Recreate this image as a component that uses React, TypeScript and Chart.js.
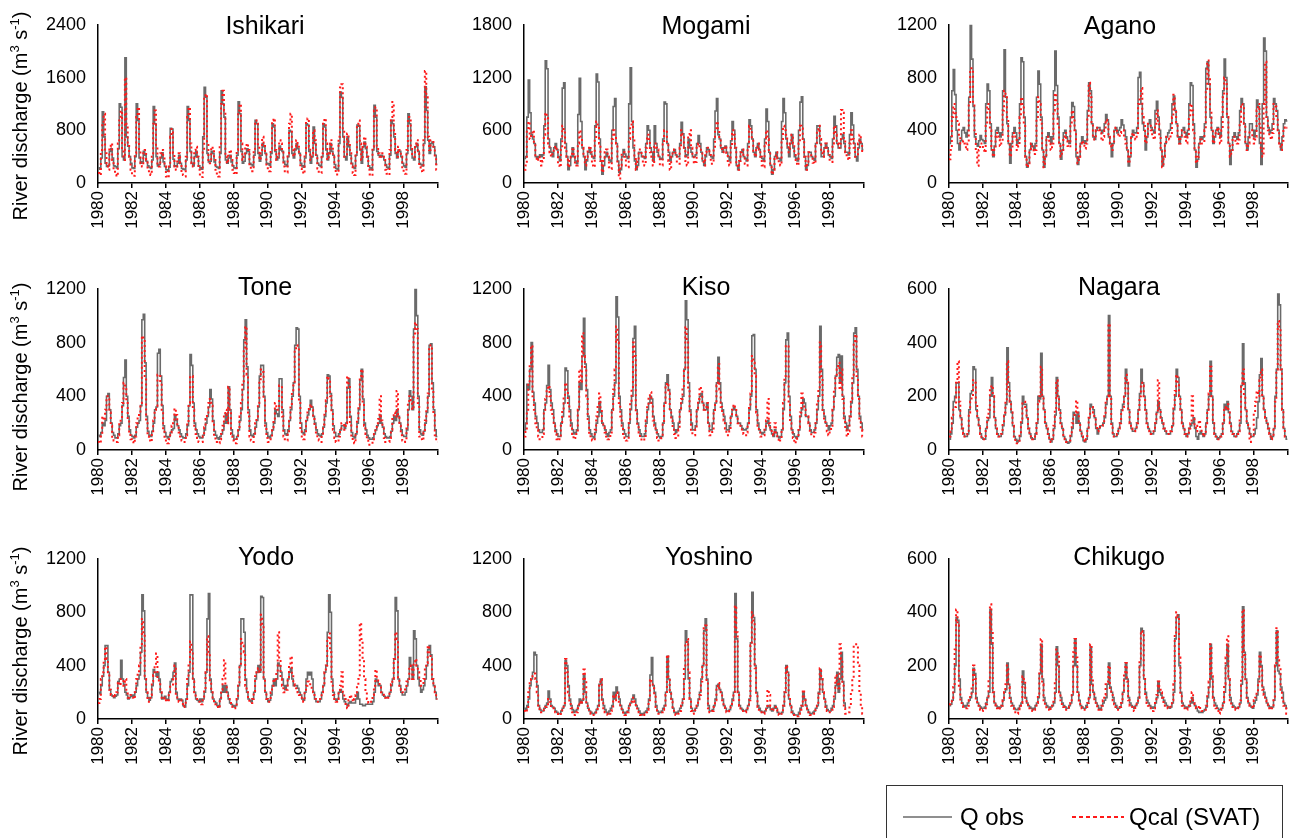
import React, { useEffect, useRef } from 'react';
import { Chart, registerables } from 'chart.js';
Chart.register(...registerables);

const FONT = '"Liberation Sans", Arial, Helvetica, sans-serif';

// ---------- data (monthly, Jan 1980 – Dec 1999) ----------
const riverNames = ['Ishikari', 'Mogami', 'Agano', 'Tone', 'Kiso', 'Nagara', 'Yodo', 'Yoshino', 'Chikugo'];
const yMaxValues = [2400, 1800, 1200, 1200, 1200, 600, 1200, 1200, 600];
const yearTickLabels = ['1980', '1982', '1984', '1986', '1988', '1990', '1992', '1994', '1996', '1998', ''];
const MONTHS = 240;

const ishikariObs = [
  230,210,380,1080,700,300,250,260,480,520,380,260,
  250,230,520,1200,1150,400,350,1900,700,560,400,300,
  230,220,400,1200,950,380,300,320,480,420,330,260,
  240,220,350,1160,900,400,260,280,380,460,320,250,
  200,180,240,830,820,360,260,250,300,420,300,220,
  210,200,350,1160,950,480,300,260,400,480,400,260,
  230,210,700,1450,1300,450,320,330,480,450,320,250,
  240,220,450,1400,1200,1000,350,300,380,420,320,260,
  230,220,420,1230,1050,480,300,330,450,520,480,300,
  280,260,420,950,900,450,330,420,600,550,450,300,
  290,270,450,900,850,480,350,380,560,500,480,330,
  280,260,400,800,780,450,380,500,600,520,450,300,
  260,240,380,900,880,480,300,400,850,600,420,300,
  270,250,400,900,850,500,350,450,600,480,420,280,
  220,200,600,1380,1300,700,400,350,700,550,420,300,
  240,220,420,880,860,500,300,550,620,520,400,260,
  230,200,500,1180,1000,480,420,400,420,400,350,280,
  240,220,420,950,900,700,450,380,500,480,400,300,
  260,240,450,1050,900,500,380,350,550,600,480,300,
  280,260,600,1460,1100,650,450,600,620,550,420,280,
];
const ishikariCal = [
  150,120,500,900,1050,450,300,200,550,600,350,200,
  120,100,600,950,1100,500,350,1600,900,600,400,200,
  130,110,450,1000,1150,500,300,250,450,500,350,200,
  140,120,400,900,1100,550,280,250,450,500,400,250,
  100,80,250,700,820,450,250,200,350,450,300,150,
  120,100,400,1000,1150,600,300,250,500,550,400,200,
  100,90,500,1300,1350,600,350,300,550,500,350,200,
  120,100,600,1200,1400,1100,400,300,450,500,350,200,
  150,130,500,1100,1200,600,350,400,550,600,500,250,
  200,180,500,950,900,550,350,450,700,600,450,250,
  200,180,500,950,980,500,350,400,650,600,500,250,
  180,160,450,900,1050,550,400,550,650,600,450,220,
  160,140,450,950,980,550,350,450,800,650,400,220,
  170,150,450,900,980,600,350,450,650,550,420,200,
  150,130,700,1450,1500,800,400,400,750,600,450,250,
  150,120,450,900,950,600,350,600,700,550,400,200,
  130,110,550,1100,1150,550,450,400,450,420,350,200,
  140,120,500,1000,1230,800,500,400,550,500,400,220,
  160,140,500,1000,950,550,400,400,600,650,450,250,
  180,160,700,1700,1300,700,500,650,650,550,400,200,
];

const mogamiObs = [
  280,300,750,1170,800,550,500,450,300,280,300,320,
  300,320,650,1390,1300,500,400,350,300,400,450,380,
  300,250,500,1080,1140,450,300,150,200,300,400,300,
  250,220,780,1190,700,400,300,150,250,350,400,330,
  300,280,650,1240,1150,500,250,100,200,300,350,300,
  260,240,600,870,960,450,250,120,150,300,380,330,
  300,280,900,1310,700,400,250,150,200,350,350,300,
  300,280,450,650,600,400,350,250,650,450,350,300,
  280,270,500,920,900,450,350,250,300,350,380,320,
  300,300,450,690,560,400,300,320,500,400,350,300,
  300,320,450,540,450,350,250,200,300,400,380,320,
  300,280,500,820,960,550,500,400,350,400,420,350,
  300,250,480,700,600,400,200,150,250,350,380,300,
  280,250,450,720,650,500,350,300,400,450,380,300,
  280,250,500,840,700,350,200,100,150,300,350,280,
  280,250,700,960,800,500,400,300,450,550,400,300,
  280,250,600,920,980,500,300,150,200,350,350,300,
  280,260,450,650,650,450,300,300,400,450,400,320,
  300,280,500,760,650,450,400,400,500,550,450,350,
  350,320,550,800,660,450,300,250,400,500,450,380,
];
const mogamiCal = [
  150,200,600,700,500,550,600,450,300,250,300,250,
  200,250,550,800,750,450,350,300,350,400,420,350,
  200,180,400,650,600,400,300,180,250,300,380,300,
  220,200,450,600,500,400,300,200,300,380,420,350,
  200,180,500,700,650,450,250,120,250,350,380,300,
  180,160,500,600,550,450,200,50,200,350,350,300,
  200,180,500,650,700,500,300,150,250,380,380,320,
  220,200,400,550,500,350,300,200,450,400,380,300,
  200,200,450,600,600,450,250,150,300,350,380,320,
  220,220,400,600,550,400,250,200,550,600,400,300,
  220,240,400,450,400,350,250,200,350,400,380,320,
  220,220,400,600,700,600,500,400,350,400,420,340,
  220,200,400,600,550,400,220,150,250,350,380,300,
  220,200,400,650,600,500,350,300,400,450,380,300,
  200,180,450,600,500,350,200,100,150,300,350,280,
  220,200,500,650,600,550,450,350,450,550,450,320,
  220,200,450,650,620,500,300,150,220,350,350,300,
  230,220,420,600,650,500,350,300,400,450,400,320,
  250,240,450,650,550,450,400,450,830,800,500,350,
  280,260,450,600,500,400,300,300,450,550,450,350,
];

const aganoObs = [
  300,350,700,860,670,400,300,250,320,400,420,380,
  350,400,650,1200,940,580,350,300,280,320,360,330,
  320,300,600,750,700,450,250,200,280,400,420,380,
  350,380,700,1010,650,450,300,150,300,380,420,380,
  300,330,600,950,920,500,200,120,150,250,300,280,
  250,300,650,850,750,500,250,120,200,350,380,350,
  300,350,700,1000,740,500,300,180,250,380,400,350,
  320,300,500,610,580,400,200,140,200,300,350,320,
  300,320,550,760,700,450,350,330,400,420,420,400,
  380,400,450,520,480,350,300,200,300,400,420,380,
  400,420,480,440,400,350,250,130,200,350,400,380,
  380,420,800,840,600,450,400,250,350,450,480,420,
  400,380,550,620,500,400,250,130,200,300,350,380,
  400,450,600,660,550,450,350,300,350,400,420,380,
  350,400,600,760,740,450,250,120,180,300,350,330,
  350,450,870,920,750,500,400,300,350,400,420,380,
  350,500,700,940,800,500,300,140,250,350,380,350,
  330,380,550,640,600,450,300,250,350,450,450,400,
  350,400,630,580,300,140,600,1100,1000,500,420,380,
  400,450,640,600,550,400,300,250,350,450,480,470,
];
const aganoCal = [
  180,250,500,600,530,500,450,350,300,300,320,300,
  250,300,600,870,870,600,400,250,130,250,300,280,
  250,230,450,600,550,400,250,200,250,350,380,330,
  280,300,550,700,650,500,300,200,250,350,380,350,
  250,280,500,650,600,450,200,120,150,250,300,250,
  220,250,500,650,600,450,250,120,200,350,350,300,
  250,300,550,680,600,450,300,200,250,350,380,320,
  280,270,450,550,500,400,250,150,200,300,320,300,
  260,300,500,760,650,450,350,330,400,420,400,380,
  320,350,400,480,450,350,300,250,300,400,420,380,
  350,380,400,400,350,300,250,150,200,350,380,350,
  330,380,600,650,720,500,450,300,350,450,450,400,
  350,330,450,550,450,350,250,120,200,300,350,350,
  330,380,500,670,550,450,350,300,350,400,400,350,
  300,350,500,600,550,400,250,150,200,300,330,300,
  300,400,700,930,800,550,400,300,350,400,420,360,
  300,400,650,800,750,500,300,200,250,350,350,320,
  300,330,450,600,580,450,300,250,300,400,400,350,
  300,350,550,600,450,250,200,600,920,500,400,350,
  330,380,600,580,500,400,300,250,320,420,430,420,
];

const toneObs = [
  110,100,130,200,180,220,400,420,300,200,130,110,
  90,90,120,180,200,330,540,670,400,250,150,110,
  100,90,110,170,200,220,330,970,1010,650,250,140,
  110,100,140,200,300,320,720,750,550,330,180,130,
  100,90,100,130,150,160,260,220,180,150,120,100,
  90,90,120,180,330,710,630,350,200,150,120,100,
  90,90,110,150,200,250,320,450,380,220,140,110,
  90,80,100,120,150,200,270,200,470,300,150,110,
  80,80,100,150,220,300,450,820,970,620,300,150,
  110,100,120,170,220,320,550,630,630,400,200,130,
  100,90,110,150,200,300,270,250,530,530,300,150,
  120,110,150,220,300,400,500,780,910,900,400,200,
  130,120,150,220,260,300,370,320,250,200,150,120,
  110,100,120,170,250,350,560,550,420,300,180,130,
  100,100,120,150,180,180,160,200,460,530,250,130,
  100,90,120,200,300,520,600,380,200,150,110,90,
  80,80,90,120,150,180,200,260,200,170,120,100,
  90,90,100,140,200,250,220,300,250,200,150,110,
  100,100,150,300,440,400,300,900,1210,1000,400,150,
  120,110,140,200,280,400,780,790,500,300,150,100,
];
const toneCal = [
  60,50,120,250,220,300,400,400,280,180,90,70,
  60,60,110,200,230,350,500,480,350,220,120,80,
  60,50,100,200,250,260,350,850,820,550,200,100,
  70,60,130,220,300,330,560,550,500,300,150,90,
  60,50,80,130,180,200,310,260,180,130,90,70,
  60,60,110,200,350,550,550,300,180,120,90,60,
  60,60,100,170,230,280,350,380,330,200,100,70,
  60,50,80,120,180,250,300,200,470,300,120,70,
  50,50,90,160,250,350,500,750,920,560,250,100,
  70,60,110,200,250,350,500,600,580,380,180,90,
  60,60,100,170,220,350,300,300,480,480,250,100,
  80,70,140,240,330,430,480,750,780,760,350,150,
  90,80,140,230,280,330,340,300,230,180,120,80,
  70,60,110,190,270,370,550,530,400,280,150,90,
  60,60,100,150,200,200,150,200,550,480,200,90,
  60,50,110,220,330,550,600,350,180,120,70,40,
  40,40,70,130,170,200,230,400,220,170,90,60,
  60,60,90,150,230,280,250,440,250,180,110,70,
  60,70,160,350,400,360,300,850,950,900,350,100,
  80,70,130,220,300,420,750,780,450,260,110,60,
];

const kisoObs = [
  150,200,490,450,600,800,430,350,250,200,150,130,
  130,150,300,350,480,630,450,350,300,200,150,120,
  100,100,200,250,350,610,590,400,300,200,150,120,
  130,150,300,500,450,700,980,640,450,250,150,120,
  100,90,130,200,250,360,280,200,180,150,120,100,
  130,150,300,400,500,1140,990,400,300,200,150,120,
  100,100,200,300,400,830,920,300,200,150,120,100,
  100,120,200,300,350,400,380,250,200,150,120,100,
  90,100,200,350,500,560,450,300,250,200,150,130,
  150,200,300,350,400,600,1110,970,500,300,200,150,
  150,180,300,350,400,420,350,300,300,350,200,150,
  150,200,300,350,500,690,500,350,300,250,200,150,
  150,180,250,300,320,300,250,200,200,180,160,150,
  150,160,200,300,400,850,860,600,300,200,150,130,
  120,130,150,200,220,180,150,120,100,150,130,100,
  90,100,150,300,500,820,870,400,250,150,120,100,
  90,100,150,250,300,380,350,250,250,200,150,130,
  130,150,200,300,400,920,600,300,250,200,180,150,
  180,200,300,400,550,690,710,500,700,400,250,200,
  150,180,250,350,500,870,910,600,400,250,200,150,
];
const kisoCal = [
  100,150,300,500,650,780,400,300,200,150,100,80,
  80,120,280,380,450,480,400,300,250,180,120,80,
  70,80,180,300,400,500,450,350,250,180,120,80,
  90,120,300,600,500,870,700,600,400,220,120,80,
  70,70,150,250,320,420,300,200,170,130,100,80,
  90,120,300,450,600,920,800,350,250,180,120,90,
  70,80,200,350,450,800,700,280,180,130,90,70,
  70,90,220,330,400,430,350,220,180,130,90,70,
  70,90,200,350,480,500,420,280,220,170,120,90,
  100,150,300,380,450,600,920,800,450,280,150,110,
  110,150,300,380,470,450,350,300,320,350,180,110,
  110,150,280,350,480,640,450,320,280,220,160,110,
  110,150,250,300,340,320,260,200,200,170,140,120,
  110,130,200,320,420,700,650,550,280,180,130,100,
  100,110,150,220,380,200,150,120,110,200,120,90,
  60,80,150,350,550,780,780,350,200,130,90,50,
  70,90,170,280,420,350,300,250,250,200,130,100,
  100,130,200,350,450,800,550,280,220,180,140,110,
  140,180,300,450,550,600,650,450,600,380,220,150,
  100,140,250,380,550,800,860,550,380,220,150,100,
];

const nagaraObs = [
  40,60,100,180,200,250,250,150,120,80,60,50,
  50,60,150,210,220,310,300,150,120,90,60,45,
  40,40,80,110,120,200,270,200,120,80,60,50,
  50,60,90,130,170,380,250,180,140,90,50,40,
  30,35,50,100,200,170,170,120,80,60,45,40,
  40,60,100,200,190,360,200,150,100,80,60,40,
  30,40,80,130,270,200,150,100,80,50,40,30,
  25,30,50,80,140,130,100,140,100,70,50,35,
  30,40,80,120,170,160,150,120,80,60,80,90,
  90,100,120,170,200,500,200,100,60,50,50,60,
  80,100,150,170,200,300,250,150,100,80,70,70,
  80,100,150,210,300,250,200,150,100,80,70,60,
  60,70,100,140,180,150,120,100,80,70,60,60,
  60,70,90,150,200,300,270,200,150,100,80,60,
  50,60,80,90,100,120,80,50,40,60,70,60,
  50,60,100,150,200,330,200,100,60,50,40,45,
  50,60,100,170,150,180,140,100,70,60,50,50,
  60,70,100,240,395,250,150,100,80,60,50,50,
  60,80,120,180,280,340,200,150,120,100,80,60,
  40,50,80,200,300,580,540,300,150,80,50,40,
];
const nagaraCal = [
  50,70,120,160,160,250,330,180,120,80,60,50,
  50,60,140,180,200,260,250,170,120,90,60,45,
  40,40,80,120,150,230,240,200,120,80,60,50,
  50,60,100,140,180,330,220,180,140,90,50,30,
  25,30,60,110,180,180,160,120,80,60,45,40,
  40,60,100,180,200,310,200,150,100,80,60,40,
  30,40,90,150,260,200,150,100,80,50,40,30,
  30,35,60,100,130,140,185,140,100,70,50,35,
  30,40,80,120,160,160,140,120,90,70,80,90,
  90,100,130,180,200,470,200,90,50,50,50,60,
  80,100,140,160,210,280,250,150,100,80,70,70,
  80,100,150,200,250,240,200,150,100,80,70,60,
  60,70,100,140,260,150,120,100,80,70,60,60,
  60,70,90,160,220,280,250,200,150,100,80,60,
  50,60,80,100,200,120,90,70,90,110,80,60,
  50,60,100,150,210,310,200,100,60,50,40,50,
  50,60,110,160,150,170,140,100,70,60,50,50,
  60,70,110,240,300,200,150,100,80,30,50,50,
  140,180,220,200,260,300,200,150,120,100,80,60,
  40,50,80,180,300,480,450,300,150,80,50,50,
];

const yodoObs = [
  200,190,250,320,400,550,550,350,220,180,170,160,
  170,180,280,300,440,300,260,200,180,150,160,170,
  180,170,200,250,300,330,500,930,810,300,200,160,
  140,160,250,370,350,320,350,300,200,150,160,170,
  150,140,200,280,300,350,420,200,150,140,150,140,
  100,90,150,250,350,930,930,300,200,150,140,130,
  150,130,150,200,350,750,940,300,200,150,130,120,
  100,90,150,200,250,200,250,200,150,120,110,100,
  90,100,150,250,400,750,750,650,300,200,150,140,
  130,150,200,300,350,400,350,920,910,300,200,150,
  130,140,180,250,300,250,300,420,400,350,300,250,
  220,250,300,350,380,300,250,250,250,230,200,180,
  150,140,200,300,350,330,350,300,200,150,130,130,
  130,150,200,250,350,400,650,930,800,300,200,150,
  140,150,200,220,200,150,130,110,100,120,130,120,
  120,120,150,200,150,110,110,100,100,110,110,110,
  110,110,130,200,300,280,250,250,200,180,170,160,
  160,170,200,250,300,450,910,810,300,250,200,180,
  180,200,250,300,460,400,300,660,600,400,300,250,
  200,220,250,300,400,520,550,480,300,250,200,150,
];
const yodoCal = [
  120,150,300,350,450,540,450,350,220,180,170,160,
  180,200,280,250,300,300,250,300,200,160,170,180,
  160,150,200,300,350,400,550,750,650,300,200,130,
  140,180,280,330,400,490,300,260,200,150,150,160,
  140,130,200,250,250,300,400,180,150,130,140,120,
  90,100,150,300,400,580,500,280,200,160,150,130,
  120,110,150,220,350,620,500,280,200,150,120,110,
  90,80,150,220,300,440,250,200,150,120,110,90,
  80,90,150,250,400,600,550,500,250,200,150,130,
  120,150,200,320,350,380,350,780,700,300,200,150,
  130,140,200,250,300,280,350,650,450,300,250,200,
  200,220,300,400,470,320,260,250,230,200,180,160,
  140,130,200,250,280,260,250,220,200,150,130,130,
  130,150,200,260,350,400,600,640,500,250,180,140,
  130,150,200,250,350,200,150,100,80,140,180,160,
  130,150,180,250,300,720,600,450,300,200,150,120,
  120,130,180,250,370,300,280,250,200,200,180,160,
  150,160,200,260,300,450,650,600,300,250,220,200,
  200,230,280,300,400,380,300,430,450,400,350,300,
  250,260,300,380,420,550,500,450,300,250,200,150,
];

const yoshinoObs = [
  80,70,100,150,250,300,350,500,480,250,100,70,
  60,60,80,100,120,210,150,100,90,80,60,50,
  40,40,60,80,100,440,400,250,150,100,70,50,
  60,70,100,150,120,140,330,200,120,80,60,50,
  40,40,50,70,100,260,300,150,100,70,50,40,
  60,80,100,200,150,240,200,150,100,70,50,40,
  50,60,100,120,150,180,150,100,80,60,40,30,
  40,50,60,80,150,330,460,250,200,100,60,50,
  50,60,80,100,200,470,300,200,150,80,50,40,
  50,60,80,100,150,300,660,580,300,150,80,60,
  60,80,100,150,200,300,400,660,750,300,100,60,
  60,70,100,150,250,260,220,200,150,100,80,60,
  60,70,100,150,200,940,600,200,100,80,70,60,
  60,70,100,150,570,950,760,400,200,100,80,60,
  50,50,60,80,100,90,70,60,80,100,80,50,
  40,40,50,100,200,400,350,150,100,60,40,30,
  30,30,50,80,100,200,150,100,70,50,40,40,
  50,60,80,100,200,370,300,200,150,100,70,60,
  60,80,100,150,250,350,200,300,500,280,120,80,
  null,null,null,null,null,null,null,null,null,null,null,null,
];
const yoshinoCal = [
  60,50,80,200,280,300,330,340,300,200,80,60,
  50,50,70,90,100,150,130,90,80,70,50,40,
  30,30,50,80,120,450,350,200,120,80,50,30,
  40,50,80,130,110,140,370,300,100,70,50,40,
  30,30,40,60,100,250,300,130,80,50,40,30,
  40,60,80,180,140,200,180,130,90,60,40,30,
  40,50,80,110,130,160,130,90,70,50,30,25,
  30,40,50,70,140,300,280,230,180,90,50,40,
  40,50,70,90,180,480,300,200,130,70,40,30,
  30,40,60,100,150,400,560,600,350,150,60,40,
  50,70,100,140,180,280,400,680,700,280,80,50,
  50,60,90,140,240,270,230,200,140,90,70,50,
  50,60,90,140,190,850,650,200,100,70,60,50,
  50,60,90,140,550,800,720,380,180,90,70,50,
  40,40,50,80,220,180,100,60,70,90,70,40,
  30,30,40,100,200,400,350,150,90,50,30,20,
  20,20,40,70,100,220,140,90,60,40,30,30,
  40,50,70,100,190,380,300,200,140,90,60,50,
  50,70,90,180,330,280,230,560,450,250,80,40,
  40,50,100,200,300,560,560,560,400,200,100,40,
];

const chikugoObs = [
  50,55,70,100,200,380,370,150,80,60,50,45,
  50,60,70,80,100,190,170,80,60,50,45,40,
  40,45,60,80,100,410,280,100,60,50,45,40,
  45,50,70,100,110,210,130,80,60,50,40,35,
  35,40,50,60,180,130,80,60,50,45,40,35,
  40,50,60,80,170,280,150,80,60,50,45,40,
  45,50,60,100,270,200,100,80,60,50,45,40,
  40,50,60,90,200,300,200,100,70,50,45,40,
  40,50,60,80,270,130,100,80,60,50,40,35,
  50,60,70,80,130,210,120,100,80,60,50,40,
  40,45,60,100,150,210,150,80,60,50,45,40,
  50,60,80,200,340,330,150,100,70,60,50,45,
  40,45,60,80,140,100,90,80,70,60,50,45,
  40,45,60,100,300,380,390,200,100,60,50,45,
  40,45,50,60,80,60,50,40,30,25,25,25,
  30,35,45,80,120,280,150,80,60,50,40,35,
  35,40,60,100,200,280,150,80,60,50,45,40,
  40,45,60,130,420,250,150,80,60,50,45,40,
  60,70,90,150,250,200,120,100,80,60,50,45,
  40,45,70,200,330,180,170,120,100,60,50,40,
];
const chikugoCal = [
  55,60,80,120,260,410,350,120,60,50,45,40,
  40,50,70,90,120,200,150,70,50,40,35,30,
  35,40,55,80,150,430,330,100,55,45,40,35,
  40,50,70,100,130,200,120,70,50,40,30,20,
  20,30,40,60,160,140,80,60,45,40,35,30,
  35,45,60,90,180,300,130,70,50,40,35,30,
  40,50,70,140,260,240,100,70,50,45,40,35,
  35,45,60,100,250,300,230,90,60,45,40,35,
  35,45,60,90,280,150,100,70,50,40,35,30,
  50,70,90,130,140,200,110,90,70,55,45,35,
  35,45,60,100,170,210,140,70,50,45,40,30,
  45,55,80,220,330,320,150,90,60,50,40,30,
  30,40,60,90,140,120,100,80,60,50,45,40,
  40,50,70,130,320,400,380,230,90,50,45,40,
  35,40,50,70,100,60,45,40,45,50,35,30,
  30,35,50,90,140,280,160,80,50,40,30,20,
  35,45,60,130,230,310,150,70,50,45,40,35,
  40,50,70,150,410,240,140,70,55,50,45,40,
  70,80,100,140,240,190,110,90,70,55,45,35,
  40,45,70,200,340,220,200,110,80,50,40,20,
];

const obsSeries = [ishikariObs, mogamiObs, aganoObs, toneObs, kisoObs, nagaraObs, yodoObs, yoshinoObs, chikugoObs];
const calSeries = [ishikariCal, mogamiCal, aganoCal, toneCal, kisoCal, nagaraCal, yodoCal, yoshinoCal, chikugoCal];

// ---------- layout (pixels) ----------
const COL_LEFT = [98, 524, 949];
const COL_RIGHT = [447, 873, 1297];
const ROW_TOP = [22, 286, 556];
const ROW_ZERO = [183, 450, 719];
const TITLE_X = [265, 706, 1120, 265, 706, 1119, 266, 709, 1119];
const TITLE_BASE = [34, 295, 565];
const YTITLE_CY = [116, 387, 651];
const YTITLE_CX = 20;
const PAD_L = 95;
const PAD_T = 20;
const PAD_R = 14;
const X_AXIS_H = 52;

const panelTextPlugin = {
  id: 'panelText',
  afterDraw(chart: any, _args: any, opts: any) {
    const { ctx } = chart;
    ctx.save();
    ctx.fillStyle = '#000';
    ctx.font = `25px ${FONT}`;
    ctx.textAlign = 'center';
    ctx.textBaseline = 'alphabetic';
    ctx.fillText(opts.title, opts.tx, opts.ty);
    if (opts.yTitle) {
      ctx.translate(opts.yx, opts.yy);
      ctx.rotate(-Math.PI / 2);
      const parts: [string, boolean][] = [
        ['River discharge (m', false],
        ['3', true],
        [' s', false],
        ['-1', true],
        [')', false],
      ];
      let total = 0;
      const widths = parts.map(([t, sup]) => {
        ctx.font = `${sup ? 13 : 20}px ${FONT}`;
        const w = ctx.measureText(t).width;
        total += w;
        return w;
      });
      let x = -total / 2;
      ctx.textAlign = 'left';
      parts.forEach(([t, sup], i) => {
        ctx.font = `${sup ? 13 : 20}px ${FONT}`;
        ctx.fillText(t, x, sup ? -1 : 7);
        x += widths[i];
      });
    }
    ctx.restore();
  },
};

function toPoints(arr: (number | null)[]) {
  const pts = arr.map((v, i) => ({ x: i, y: v }));
  pts.push({ x: MONTHS, y: arr[arr.length - 1] });
  return pts;
}

function Panel({ idx }: { idx: number }) {
  const ref = useRef<HTMLCanvasElement>(null);
  const col = idx % 3;
  const row = Math.floor(idx / 3);
  const left = COL_LEFT[col] - PAD_L;
  const top = ROW_TOP[row] - PAD_T;
  const width = COL_RIGHT[col] + PAD_R - left;
  const height = ROW_ZERO[row] + X_AXIS_H - top;

  useEffect(() => {
    const yMax = yMaxValues[idx];
    const chart = new Chart(ref.current as HTMLCanvasElement, {
      type: 'line',
      data: {
        datasets: [
          {
            label: 'Qcal (SVAT)',
            data: toPoints(calSeries[idx]) as any,
            borderColor: '#ff1a1a',
            borderWidth: 2,
            borderDash: [2, 3],
            stepped: true,
            pointRadius: 0,
            fill: false,
          },
          {
            label: 'Q obs',
            data: toPoints(obsSeries[idx]) as any,
            borderColor: '#6a6a6a',
            borderWidth: 1.6,
            stepped: true,
            pointRadius: 0,
            fill: false,
          },
        ],
      },
      options: {
        animation: false,
        responsive: false,
        devicePixelRatio: 1,
        layout: { padding: { left: 0, right: PAD_R, top: PAD_T, bottom: 0 } },
        plugins: {
          legend: { display: false },
          tooltip: { enabled: false },
          panelText: {
            title: riverNames[idx],
            tx: TITLE_X[idx] - left,
            ty: TITLE_BASE[row] - top,
            yTitle: col === 0,
            yx: YTITLE_CX - left,
            yy: YTITLE_CY[row] - top,
          },
        } as any,
        scales: {
          x: {
            type: 'linear',
            min: 0,
            max: MONTHS,
            ticks: {
              stepSize: 24,
              autoSkip: false,
              maxRotation: 90,
              minRotation: 90,
              padding: 3,
              color: '#000',
              font: { family: FONT, size: 17 },
              callback: (v: any) => yearTickLabels[Math.round(Number(v) / 24)] ?? '',
            },
            grid: {
              display: true,
              drawOnChartArea: false,
              drawTicks: true,
              tickLength: 5,
              color: '#000',
              lineWidth: 1.5,
            },
            border: { display: true, color: '#000', width: 1.5 },
            afterFit: (s: any) => {
              s.height = X_AXIS_H;
            },
          },
          y: {
            type: 'linear',
            min: 0,
            max: yMax,
            ticks: {
              stepSize: yMax / 3,
              padding: 12,
              color: '#000',
              font: { family: FONT, size: 18 },
              callback: (v: any) => String(v),
            },
            grid: { display: true, drawOnChartArea: false, drawTicks: false },
            border: { display: true, color: '#000', width: 1.5 },
            afterFit: (s: any) => {
              s.width = PAD_L;
            },
          },
        },
      } as any,
      plugins: [panelTextPlugin as any],
    });
    return () => chart.destroy();
  }, [idx]);

  return (
    <canvas
      ref={ref}
      width={width}
      height={height}
      style={{ position: 'absolute', left, top, width, height }}
    />
  );
}

function Legend() {
  const textStyle: React.CSSProperties = {
    position: 'absolute',
    fontFamily: FONT,
    fontSize: 24,
    lineHeight: '24px',
    color: '#000',
    whiteSpace: 'nowrap',
  };
  return (
    <>
      <div
        style={{
          position: 'absolute',
          left: 886,
          top: 785,
          width: 397,
          height: 70,
          border: '1px solid #333',
          boxSizing: 'border-box',
        }}
      />
      <svg style={{ position: 'absolute', left: 0, top: 0 }} width={1299} height={838}>
        <line x1={903} y1={817} x2={952} y2={817} stroke="#6a6a6a" strokeWidth={1.6} />
        <line x1={1072} y1={817} x2={1124} y2={817} stroke="#ff1a1a" strokeWidth={2} strokeDasharray="4 3" />
      </svg>
      <div style={{ ...textStyle, left: 960, top: 805 }}>Q obs</div>
      <div style={{ ...textStyle, left: 1129, top: 805 }}>Qcal (SVAT)</div>
    </>
  );
}

export default function App() {
  return (
    <div
      style={{
        position: 'absolute',
        left: 0,
        top: 0,
        width: 1299,
        height: 838,
        overflow: 'hidden',
        background: '#fff',
      }}
    >
      {riverNames.map((_, i) => (
        <Panel key={i} idx={i} />
      ))}
      <Legend />
    </div>
  );
}
